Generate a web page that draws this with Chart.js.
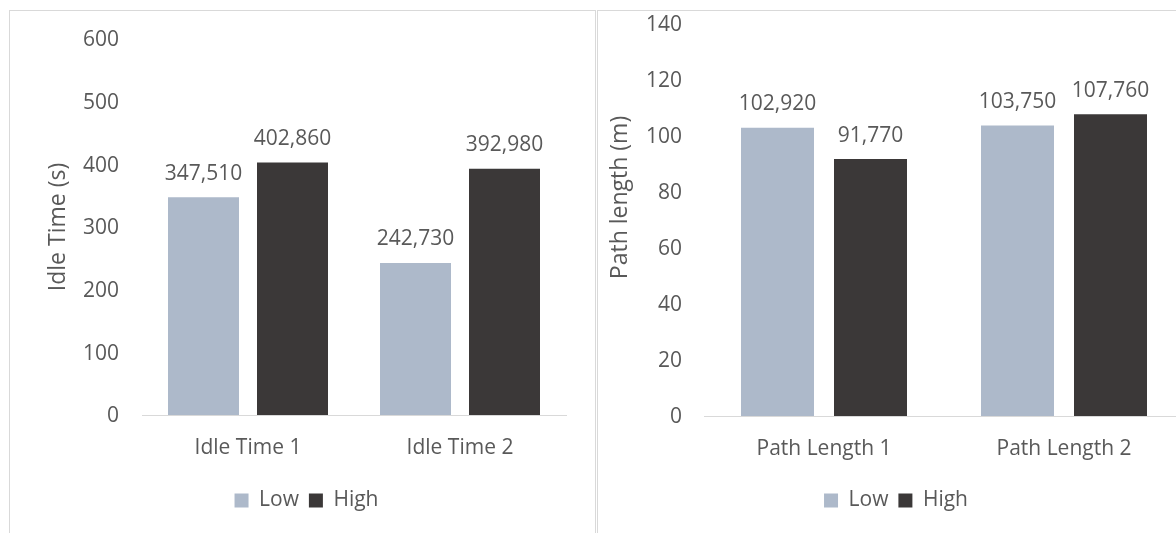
<!DOCTYPE html>
<html>
<head>
<meta charset="utf-8">
<script src="https://cdn.jsdelivr.net/npm/chart.js@4"></script>
<style>
  html, body { margin: 0; padding: 0; background: #fff; width: 1176px; height: 533px; overflow: hidden; }
  .panel { position: absolute; top: 10px; height: 600px; border: 1px solid #d9d9d9; box-sizing: border-box; background: #fff; }
  #idlePanel { left: 9px; width: 587px; }
  #pathPanel { left: 597px; width: 640px; }
  canvas { position: absolute; left: 0; top: 0; }
</style>
</head>
<body>
<div class="panel" id="idlePanel"><canvas id="idleChart" width="584" height="522"></canvas></div>
<div class="panel" id="pathPanel"><canvas id="pathChart" width="620" height="522"></canvas></div>
<script>
// Series names shared by both panels
const seriesNames = ['Low', 'High'];

// Idle time panel
const idleCategories = ['Idle Time 1', 'Idle Time 2'];
const idleLow = [347.51, 242.73];
const idleHigh = [402.86, 392.98];
const idleTicks = [0, 100, 200, 300, 400, 500, 600];

// Path length panel
const pathCategories = ['Path Length 1', 'Path Length 2'];
const pathLow = [102.92, 103.75];
const pathHigh = [91.77, 107.76];
const pathTicks = [0, 20, 40, 60, 80, 100, 120, 140];

const TEXT = '#595959';
const LOW_COLOR = '#adb9ca';
const HIGH_COLOR = '#3b3838';
const FONT = '"Open Sans", "DejaVu Sans", sans-serif';

// Values are shown with a decimal comma and three decimals, e.g. 347,510
function formatValue(v) {
  return v.toFixed(3).replace('.', ',');
}

// Writes each bar's value above it
const valueLabels = {
  id: 'valueLabels',
  afterDatasetsDraw(chart) {
    const ctx = chart.ctx;
    ctx.save();
    ctx.font = '21px ' + FONT;
    ctx.fillStyle = TEXT;
    ctx.textAlign = 'center';
    ctx.textBaseline = 'alphabetic';
    chart.data.datasets.forEach((ds, i) => {
      chart.getDatasetMeta(i).data.forEach((bar, j) => {
        ctx.fillText(formatValue(ds.data[j]), bar.x, bar.y - 17.5);
      });
    });
    ctx.restore();
  }
};

// Rotated value-axis title, placed beside the plot area
const sideTitle = {
  id: 'sideTitle',
  afterDraw(chart, args, opts) {
    if (!opts || !opts.text) return;
    const {left, top, bottom} = chart.chartArea;
    const ctx = chart.ctx;
    ctx.save();
    ctx.translate(left - opts.offset, (top + bottom) / 2 + (opts.shift || 0));
    ctx.rotate(-Math.PI / 2);
    ctx.font = '23px ' + FONT;
    ctx.fillStyle = TEXT;
    ctx.textAlign = 'center';
    ctx.textBaseline = 'middle';
    ctx.fillText(opts.text, 0, 0);
    ctx.restore();
  }
};

function buildChart(canvasId, cfg) {
  return new Chart(document.getElementById(canvasId), {
    type: 'bar',
    data: {
      labels: cfg.categories,
      datasets: [
        { label: seriesNames[0], data: cfg.low, backgroundColor: LOW_COLOR, borderWidth: 0,
          categoryPercentage: cfg.catPct, barPercentage: cfg.barPct },
        { label: seriesNames[1], data: cfg.high, backgroundColor: HIGH_COLOR, borderWidth: 0,
          categoryPercentage: cfg.catPct, barPercentage: cfg.barPct }
      ]
    },
    options: {
      responsive: false,
      animation: false,
      devicePixelRatio: 1,
      layout: { padding: cfg.padding },
      plugins: {
        legend: {
          position: 'bottom',
          labels: {
            boxWidth: 14,
            boxHeight: 14,
            padding: 10,
            color: TEXT,
            font: { family: FONT, size: 21 }
          }
        },
        tooltip: { enabled: false },
        sideTitle: { text: cfg.title, offset: 84, shift: cfg.titleShift }
      },
      scales: {
        x: {
          grid: { display: false, drawTicks: false },
          border: { display: true, color: '#d9d9d9', width: 1 },
          ticks: { color: TEXT, font: { family: FONT, size: 21 }, padding: 20, maxRotation: 0 },
          afterFit(scale) { scale.height = cfg.xHeight; }
        },
        y: {
          min: cfg.ticks[0],
          max: cfg.ticks[cfg.ticks.length - 1],
          // hidden tick marks keep the gap between the numbers and the plot
          grid: { display: false, drawTicks: true, tickLength: cfg.tickGap },
          border: { display: false },
          ticks: { color: TEXT, font: { family: FONT, size: 21 }, padding: 0, labelOffset: 1.5 },
          afterBuildTicks(scale) { scale.ticks = cfg.ticks.map(v => ({ value: v })); },
          afterFit(scale) { scale.width = cfg.yWidth; }
        }
      }
    },
    plugins: [valueLabels, sideTitle]
  });
}

function draw() {
  buildChart('idleChart', {
    categories: idleCategories,
    low: idleLow,
    high: idleHigh,
    ticks: idleTicks,
    title: 'Idle Time (s)',
    titleShift: 0,
    catPct: 178 / 212,
    barPct: 71 / 89,
    padding: { left: 37, right: 28, top: 28, bottom: 12 },
    yWidth: 95,
    xHeight: 65,
    tickGap: 23
  });
  buildChart('pathChart', {
    categories: pathCategories,
    low: pathLow,
    high: pathHigh,
    ticks: pathTicks,
    title: 'Path length (m)',
    titleShift: -22.5,
    catPct: 186 / 240,
    barPct: 73 / 93,
    padding: { left: 10, right: 34, top: 13, bottom: 12 },
    yWidth: 96,
    xHeight: 64,
    tickGap: 22
  });
}

Chart.defaults.font.family = FONT;
Chart.defaults.color = TEXT;

Promise.all([
  document.fonts.load('21px "Open Sans"'),
  document.fonts.load('23px "Open Sans"')
]).then(draw, draw);
</script>
</body>
</html>
